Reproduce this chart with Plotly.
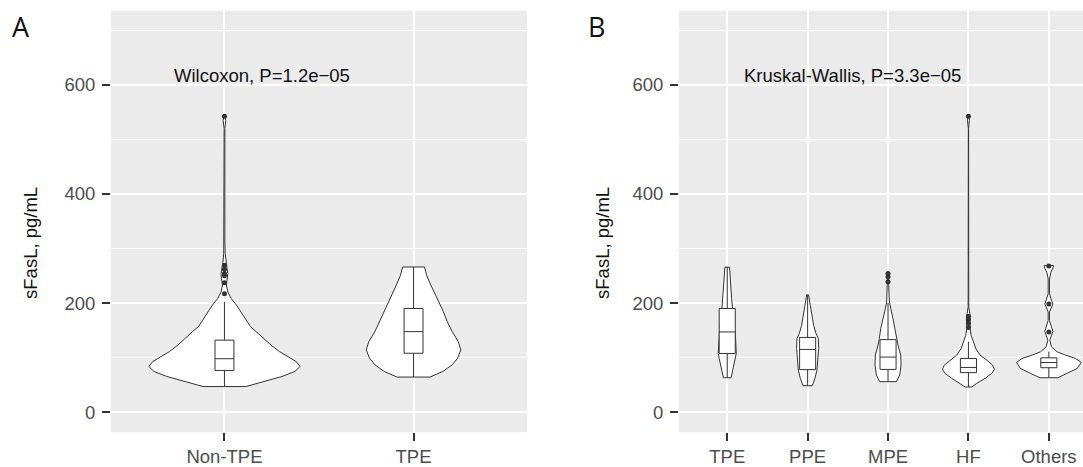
import plotly.graph_objects as go

# ---------------- data ----------------
groups_a = ["Non-TPE", "TPE"]
groups_b = ["TPE", "PPE", "MPE", "HF", "Others"]

# violin outlines: y values and half-widths (in category units)
a_nontpe_y = [47, 56.5, 65.6, 74.7, 83.8, 92.9, 102, 111, 123, 135, 148, 157, 172, 184, 196, 208, 220,
              233, 245, 254, 263, 275, 290, 310, 520, 534, 542]
a_nontpe_hw = [0.113, 0.209, 0.306, 0.373, 0.400, 0.379, 0.337, 0.291, 0.246, 0.209, 0.168, 0.137, 0.109,
               0.087, 0.064, 0.036, 0.018, 0.010, 0.016, 0.018, 0.014, 0.008, 0.004, 0.002, 0.002, 0.007, 0.003]

a_tpe_y = [64.4, 74.7, 86.8, 99, 114, 129, 148, 166, 184, 208, 233, 251, 266]
a_tpe_hw = [0.087, 0.155, 0.204, 0.233, 0.250, 0.237, 0.204, 0.178, 0.158, 0.124, 0.091, 0.069, 0.058]

b_tpe_y = [63.2, 80.2, 98.5, 107.6, 135, 159, 190, 208, 238, 256.5, 265.7]
b_tpe_hw = [0.048, 0.075, 0.100, 0.112, 0.104, 0.091, 0.066, 0.054, 0.037, 0.033, 0.029]

b_ppe_y = [48.6, 62, 77.2, 98.5, 116.7, 135, 144, 159, 177.5, 195.7, 215]
b_ppe_hw = [0.058, 0.091, 0.116, 0.129, 0.137, 0.133, 0.104, 0.075, 0.050, 0.033, 0.012]

b_mpe_y = [56, 68, 86.3, 104.6, 122.8, 135, 153, 171, 190, 202, 232, 256]
b_mpe_hw = [0.104, 0.145, 0.162, 0.158, 0.124, 0.108, 0.091, 0.062, 0.033, 0.017, 0.008, 0.006]

b_hf_y = [46.2, 52.9, 62, 71.1, 78.4, 86.3, 95.4, 104.6, 116.7, 128.9, 141, 153, 162, 171, 180.5, 192.7,
          520, 535, 542]
b_hf_hw = [0.041, 0.104, 0.207, 0.290, 0.324, 0.299, 0.228, 0.145, 0.091, 0.062, 0.033, 0.021, 0.021,
           0.025, 0.017, 0.004, 0.002, 0.012, 0.006]

b_oth_y = [63.2, 71.1, 80.2, 91.2, 98.5, 104.6, 110.6, 119.8, 132, 141, 148, 156, 168, 183.6, 192.7, 198,
           205, 217, 244, 256.5, 263.8, 268.7]
b_oth_hw = [0.112, 0.228, 0.353, 0.402, 0.332, 0.207, 0.104, 0.033, 0.012, 0.033, 0.050, 0.033, 0.008,
            0.008, 0.033, 0.050, 0.033, 0.008, 0.008, 0.025, 0.050, 0.058]

# box statistics
a_q1 = [76.5, 108]
a_med = [98, 147.6]
a_q3 = [132, 190]
a_lo = [47, 64.4]
a_hi = [202, 266]

b_q1 = [107.6, 78, 78.4, 72.5, 81.5]
b_med = [147, 115, 101, 82, 91]
b_q3 = [190, 137, 133, 98.5, 99.6]
b_lo = [63.2, 48.6, 56, 46.2, 63.2]
b_hi = [265.7, 215, 200, 129, 111]

# outliers
a_out_nontpe = [217, 237, 250, 254, 262, 269, 542]
b_out_mpe = [239, 248, 254]
b_out_hf = [155, 163, 170, 176, 542]
b_out_oth = [147, 198, 268]

# ---------------- figure ----------------
W, H = 1083, 467
LINE = "#333333"
FONT = "Liberation Sans, Arial, Helvetica, sans-serif"
YR = [-36.5, 735]
XRA = [0.4, 2.6]
XRB = [0.4, 5.425]

fig = go.Figure()


def violin(center, ys, hws, xa, ya):
    xs = [center + h for h in hws] + [center - h for h in reversed(hws)]
    yy = list(ys) + list(reversed(ys))
    xs.append(xs[0])
    yy.append(yy[0])
    fig.add_trace(go.Scatter(x=xs, y=yy, mode="lines", fill="toself", fillcolor="white",
                             line=dict(color=LINE, width=1), xaxis=xa, yaxis=ya,
                             hoverinfo="skip", showlegend=False))


violin(1, a_nontpe_y, a_nontpe_hw, "x", "y")
violin(2, a_tpe_y, a_tpe_hw, "x", "y")
for i, (ys, hws) in enumerate([(b_tpe_y, b_tpe_hw), (b_ppe_y, b_ppe_hw), (b_mpe_y, b_mpe_hw),
                               (b_hf_y, b_hf_hw), (b_oth_y, b_oth_hw)]):
    violin(i + 1, ys, hws, "x2", "y2")

# boxes + outliers go on overlay axes so that they sit above the violins
for i in range(len(groups_a)):
    fig.add_trace(go.Box(x=[i + 1], q1=[a_q1[i]], median=[a_med[i]], q3=[a_q3[i]],
                         lowerfence=[a_lo[i]], upperfence=[a_hi[i]], width=0.1,
                         fillcolor="white", line=dict(color=LINE, width=1), whiskerwidth=0,
                         boxpoints=False, xaxis="x3", yaxis="y3", showlegend=False, hoverinfo="skip"))
for i in range(len(groups_b)):
    fig.add_trace(go.Box(x=[i + 1], q1=[b_q1[i]], median=[b_med[i]], q3=[b_q3[i]],
                         lowerfence=[b_lo[i]], upperfence=[b_hi[i]], width=0.2,
                         fillcolor="white", line=dict(color=LINE, width=1), whiskerwidth=0,
                         boxpoints=False, xaxis="x4", yaxis="y4", showlegend=False, hoverinfo="skip"))

mk = dict(color=LINE, size=5)
fig.add_trace(go.Scatter(x=[1] * len(a_out_nontpe), y=a_out_nontpe, mode="markers", marker=mk,
                         xaxis="x3", yaxis="y3", showlegend=False))
fig.add_trace(go.Scatter(x=[3] * len(b_out_mpe), y=b_out_mpe, mode="markers", marker=mk,
                         xaxis="x4", yaxis="y4", showlegend=False))
fig.add_trace(go.Scatter(x=[4] * len(b_out_hf), y=b_out_hf, mode="markers", marker=mk,
                         xaxis="x4", yaxis="y4", showlegend=False))
fig.add_trace(go.Scatter(x=[5] * len(b_out_oth), y=b_out_oth, mode="markers", marker=mk,
                         xaxis="x4", yaxis="y4", showlegend=False))

ydom = [1 - 434 / H, 1 - 11 / H]
tickfont = dict(family=FONT, size=18.5, color="#4D4D4D")
common_x = dict(showgrid=True, gridcolor="white", gridwidth=2, zeroline=False, showline=False,
                ticks="outside", ticklen=8, tickwidth=2, tickcolor=LINE, tickfont=tickfont,
                fixedrange=True)
common_y = dict(range=YR, tickvals=[0, 200, 400, 600], showgrid=True, gridcolor="white",
                gridwidth=2, zeroline=False, showline=False, ticks="outside", ticklen=8, tickwidth=2,
                tickcolor=LINE, tickfont=tickfont, ticklabelstandoff=3, fixedrange=True,
                minor=dict(tickvals=[100, 300, 500, 700], showgrid=True, gridcolor="white",
                           gridwidth=1, ticks=""))
hidden = dict(visible=False, showgrid=False, zeroline=False, fixedrange=True)

fig.update_layout(
    width=W, height=H, margin=dict(l=0, r=0, t=0, b=0),
    paper_bgcolor="white", plot_bgcolor="#EBEBEB", showlegend=False,
    xaxis=dict(domain=[111 / W, 527 / W], range=XRA, tickvals=[1, 2], ticktext=groups_a,
               anchor="y", **common_x),
    yaxis=dict(domain=ydom, anchor="x", **common_y),
    xaxis2=dict(domain=[679 / W, 1.0], range=XRB, tickvals=[1, 2, 3, 4, 5],
                ticktext=groups_b, anchor="y2", **common_x),
    yaxis2=dict(domain=ydom, anchor="x2", **common_y),
    xaxis3=dict(overlaying="x", anchor="y3", range=XRA, **hidden),
    yaxis3=dict(overlaying="y", anchor="x3", range=YR, **hidden),
    xaxis4=dict(overlaying="x2", anchor="y4", range=XRB, **hidden),
    yaxis4=dict(overlaying="y2", anchor="x4", range=YR, **hidden),
)

ann = [
    dict(text="A", x=21 / W, y=1 - 27 / H, font=dict(family="Open Sans, sans-serif", size=27, color="#111")),
    dict(text="B", x=596 / W, y=1 - 27 / H, font=dict(family="Open Sans, sans-serif", size=27, color="#111")),
    dict(text="sFasL, pg/mL", x=31 / W, y=1 - 244 / H, textangle=-90,
         font=dict(family=FONT, size=18.5, color="#111")),
    dict(text="sFasL, pg/mL", x=603 / W, y=1 - 244 / H, textangle=-90,
         font=dict(family=FONT, size=18.5, color="#111")),
    dict(text="Wilcoxon, P=1.2e\u221205", x=262 / W, y=1 - 76 / H,
         font=dict(family=FONT, size=18.5, color="#111")),
    dict(text="Kruskal-Wallis, P=3.3e\u221205", x=852 / W, y=1 - 76 / H,
         font=dict(family=FONT, size=18.5, color="#111")),
]
for a in ann:
    a.update(xref="paper", yref="paper", showarrow=False, xanchor="center", yanchor="middle")
fig.update_layout(annotations=ann)

fig.write_html("out.html", config={"displayModeBar": False},
               post_script="document.body.style.margin='0px';document.body.style.overflow='hidden';")
